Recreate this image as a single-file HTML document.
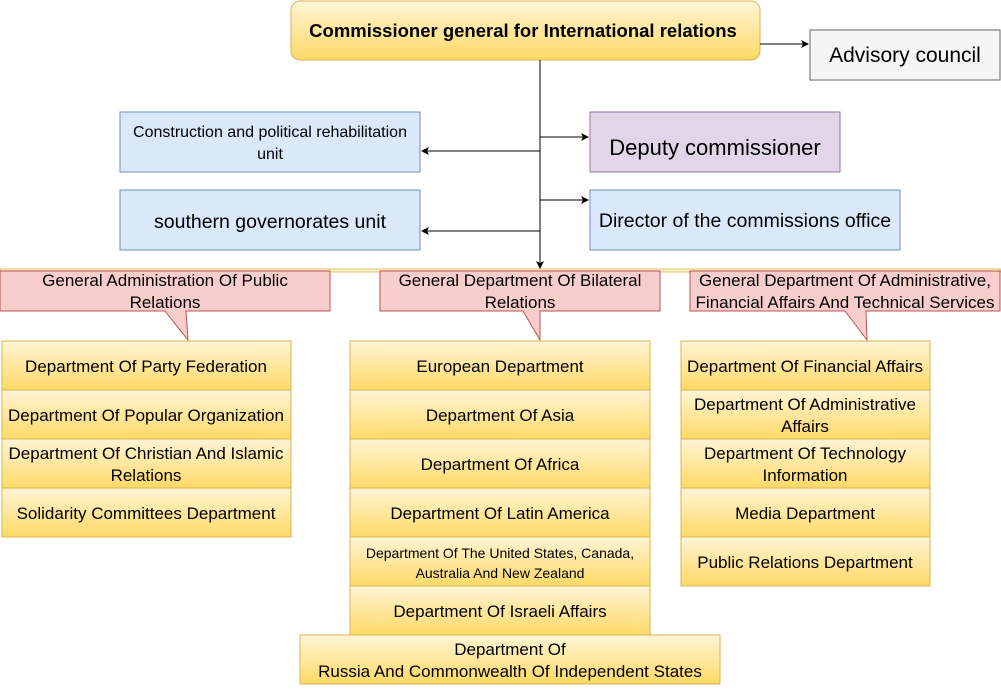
<!DOCTYPE html>
<html><head><meta charset="utf-8"><style>
body{margin:0;background:#fff;width:1001px;height:685px;overflow:hidden;font-family:"Liberation Sans",sans-serif}
</style></head><body>
<svg width="1001" height="685" xmlns="http://www.w3.org/2000/svg" font-family="Liberation Sans, sans-serif">
<defs>
<linearGradient id="y" x1="0" y1="0" x2="0" y2="1"><stop offset="0" stop-color="#fff5d6"/><stop offset="1" stop-color="#ffd966"/></linearGradient>
<marker id="a" markerWidth="8" markerHeight="8" refX="7" refY="4" orient="auto" markerUnits="userSpaceOnUse"><path d="M0,0 L8,4 L0,8 L2,4z" fill="#000"/></marker>
</defs>
<rect x="291" y="1" width="469" height="59" rx="9" fill="url(#y)" stroke="#d6b656"/>
<text x="523" y="37" text-anchor="middle" font-size="18.5" font-weight="bold">Commissioner general for International relations</text>
<rect x="810" y="30" width="190" height="50" fill="#f5f5f5" stroke="#666"/>
<text x="905" y="62" text-anchor="middle" font-size="21">Advisory council</text>
<g stroke="#000" fill="none">
<line x1="760" y1="44" x2="808" y2="44" marker-end="url(#a)"/>
<line x1="540" y1="60" x2="540" y2="268" marker-end="url(#a)"/>
<line x1="540" y1="137" x2="588" y2="137" marker-end="url(#a)"/>
<line x1="540" y1="200" x2="588" y2="200" marker-end="url(#a)"/>
<line x1="540" y1="151" x2="422" y2="151" marker-end="url(#a)"/>
<line x1="540" y1="231" x2="422" y2="231" marker-end="url(#a)"/>
</g>
<rect x="120" y="112" width="300" height="60" fill="#dae8fc" stroke="#6c8ebf"/>
<text x="270" y="137" text-anchor="middle" font-size="16">Construction and political rehabilitation</text>
<text x="270" y="159" text-anchor="middle" font-size="16">unit</text>
<rect x="120" y="190" width="300" height="60" fill="#dae8fc" stroke="#6c8ebf"/>
<text x="270" y="228" text-anchor="middle" font-size="19.5">southern governorates unit</text>
<rect x="590" y="112" width="250" height="60" fill="#e1d5e7" stroke="#9673a6"/>
<text x="715" y="155" text-anchor="middle" font-size="22">Deputy commissioner</text>
<rect x="590" y="190" width="310" height="60" fill="#dae8fc" stroke="#6c8ebf"/>
<text x="745" y="227" text-anchor="middle" font-size="19.5">Director of the commissions office</text>
<rect x="0" y="269" width="1001" height="3" fill="#fff2cc" stroke="#d6b656" stroke-width="0.8"/>
<g fill="#f8cecc" stroke="#b85450">
<path d="M0,271 H330 V311 H186 L188,340 L165,311 H0 Z"/>
<path d="M380,271 H660 V311 H540 L540,340 L523,311 H380 Z"/>
<path d="M690,271 H1000 V311 H866 L867,340 L845,311 H690 Z"/>
</g>
<g font-size="17" text-anchor="middle">
<text x="165" y="286">General Administration Of Public</text><text x="165" y="308">Relations</text>
<text x="520" y="286">General Department Of Bilateral</text><text x="520" y="308">Relations</text>
<text x="845" y="286">General Department Of Administrative,</text><text x="845" y="308">Financial Affairs And Technical Services</text>
</g>
<g fill="url(#y)" stroke="#d6b656">
<rect x="2" y="341" width="289" height="49"/><rect x="2" y="390" width="289" height="49"/><rect x="2" y="439" width="289" height="49"/><rect x="2" y="488" width="289" height="49"/>
<rect x="350" y="341" width="300" height="49"/><rect x="350" y="390" width="300" height="49"/><rect x="350" y="439" width="300" height="49"/><rect x="350" y="488" width="300" height="49"/><rect x="350" y="537" width="300" height="49"/><rect x="350" y="586" width="300" height="49"/>
<rect x="300" y="635" width="420" height="49"/>
<rect x="681" y="341" width="249" height="49"/><rect x="681" y="390" width="249" height="49"/><rect x="681" y="439" width="249" height="49"/><rect x="681" y="488" width="249" height="49"/><rect x="681" y="537" width="249" height="49"/>
</g>
<g font-size="17" text-anchor="middle">
<text x="146" y="372">Department Of Party  Federation</text>
<text x="146" y="421">Department Of Popular Organization</text>
<text x="146" y="459">Department Of Christian And Islamic</text><text x="146" y="481">Relations</text>
<text x="146" y="519">Solidarity Committees  Department</text>
<text x="500" y="372">European Department</text>
<text x="500" y="421">Department Of Asia</text>
<text x="500" y="470">Department Of Africa</text>
<text x="500" y="519">Department Of Latin America</text>
<text x="500" y="558" font-size="14">Department Of The United States, Canada,</text><text x="500" y="578" font-size="14">Australia And New Zealand</text>
<text x="500" y="617">Department Of Israeli Affairs</text>
<text x="510" y="655">Department Of</text><text x="510" y="677">Russia And Commonwealth Of Independent States</text>
<text x="805" y="372">Department Of Financial Affairs</text>
<text x="805" y="410">Department Of Administrative</text><text x="805" y="432">Affairs</text>
<text x="805" y="459">Department Of Technology</text><text x="805" y="481">Information</text>
<text x="805" y="519">Media Department</text>
<text x="805" y="568">Public Relations Department</text>
</g>
</svg>
</body></html>
